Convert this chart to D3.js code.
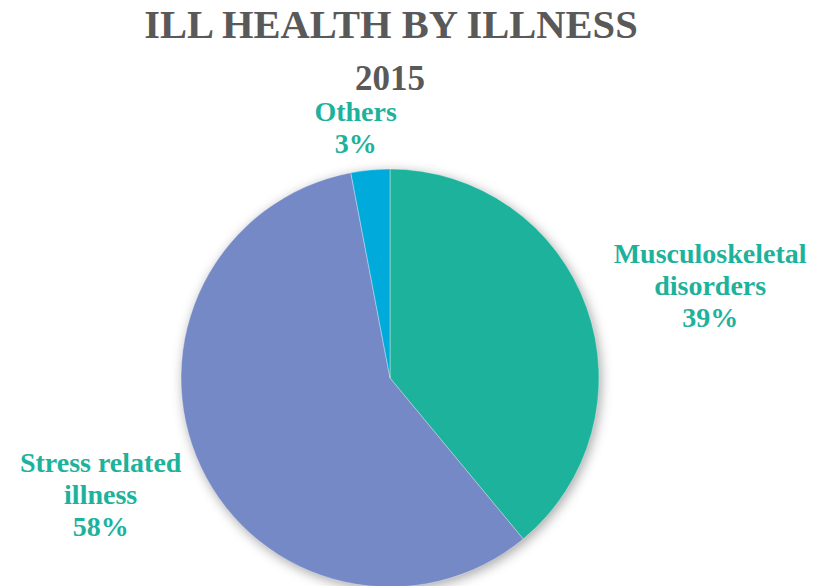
<!DOCTYPE html>
<html>
<head>
<meta charset="utf-8">
<script src="https://cdn.jsdelivr.net/npm/d3@7"></script>
<style>
  body { margin: 0; background: #fff; }
  svg text { font-family: "Liberation Serif", "DejaVu Serif", serif; font-weight: bold; }
</style>
</head>
<body>
<div id="chart"></div>
<script>
// ill health split by illness type, 2015
const categories = ['Musculoskeletal disorders', 'Stress related illness', 'Others']
const labelLines = [['Musculoskeletal', 'disorders'], ['Stress related', 'illness'], ['Others']]
const shares = [39, 58, 3]
const colours = ['#1cb29c', '#7489c6', '#00abdc']

var width = 824,
    height = 586,
    radius = 209,
    cx = 390,
    cy = 378;

var svg = d3.select('#chart')
  .append('svg')
  .attr('width', width)
  .attr('height', height)

var defs = svg.append('defs')
var shadow = defs.append('filter')
  .attr('id', 'pie-shadow')
  .attr('x', '-20%').attr('y', '-20%')
  .attr('width', '140%').attr('height', '140%')
shadow.append('feGaussianBlur').attr('stdDeviation', 6)

// title
svg.append('text')
  .attr('x', 391)
  .attr('y', 38)
  .attr('text-anchor', 'middle')
  .attr('fill', '#595959')
  .style('font-size', '40.5px')
  .text('ILL HEALTH BY ILLNESS')

svg.append('text')
  .attr('x', 390)
  .attr('y', 90)
  .attr('text-anchor', 'middle')
  .attr('fill', '#595959')
  .style('font-size', '35px')
  .text('2015')

const pie = d3.pie().sort(null).value(d => d)
const arcs = pie(shares)
const arc = d3.arc().innerRadius(0).outerRadius(radius)

const g = svg.append('g').attr('transform', `translate(${cx},${cy})`)

g.append('circle')
  .attr('cx', 2)
  .attr('cy', 3)
  .attr('r', radius)
  .attr('fill', 'rgba(0,0,0,0.35)')
  .attr('filter', 'url(#pie-shadow)')

g.selectAll('path.slice')
  .data(arcs)
  .enter()
  .append('path')
  .attr('class', 'slice')
  .attr('d', arc)
  .attr('fill', (d, i) => colours[i])
  .attr('stroke', 'rgba(255,255,255,0.35)')
  .attr('stroke-width', 1)

// labels sit just outside each slice, pushed away from the pie
const lineH = 32
arcs.forEach((d, i) => {
  const mid = (d.startAngle + d.endAngle) / 2
  const sx = Math.sin(mid), cy0 = -Math.cos(mid)
  const ax = (radius + 18) * sx
  const ay = (radius + 18) * cy0
  const lines = labelLines[i].concat([d3.format('.0f')(d.value) + '%'])

  const t = g.append('text')
    .attr('text-anchor', 'middle')
    .attr('fill', '#1cb29c')
    .style('font-size', '28px')
  lines.forEach((l, j) => t.append('tspan').attr('x', 0).attr('dy', j ? lineH : 0).text(l))

  const bb = t.node().getBBox()
  const blockH = lineH * (lines.length - 1)
  let x, y
  if (sx > 0.3) x = ax + 10 + bb.width / 2
  else if (sx < -0.3) x = ax - 3 - bb.width / 2
  else x = ax - 13
  if (Math.abs(sx) <= 0.3) y = ay + 1 - blockH
  else y = ay - blockH / 2 + 9.6 + cy0 * 46
  t.attr('transform', `translate(${x},${y})`)
})
</script>
</body>
</html>
